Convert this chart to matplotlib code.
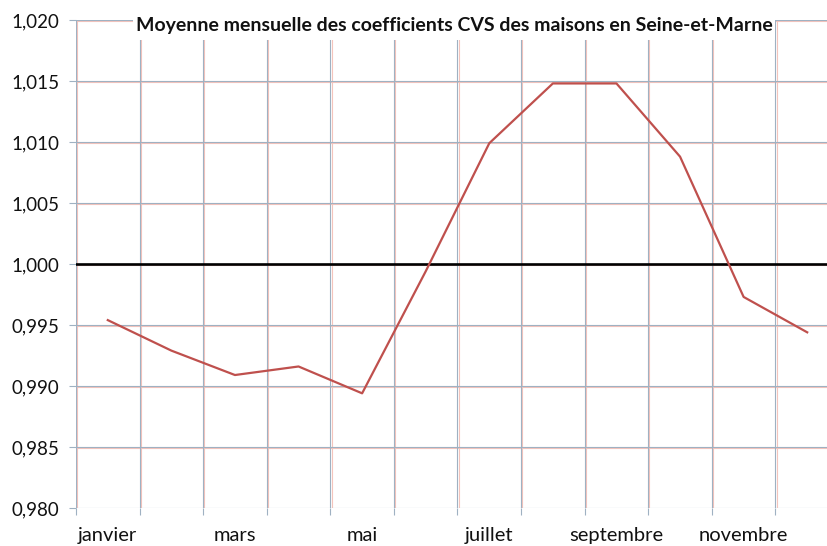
"""Coefficients CVS mensuels des maisons en Seine-et-Marne."""
import matplotlib
matplotlib.use("Agg")
import matplotlib.pyplot as plt
from matplotlib.patches import Rectangle
from matplotlib.ticker import FixedLocator, FuncFormatter
from matplotlib.transforms import ScaledTranslation
import numpy as np

mois = ["janvier", "février", "mars", "avril", "mai", "juin", "juillet",
        "août", "septembre", "octobre", "novembre", "décembre"]
coef = [0.9954, 0.9929, 0.9909, 0.9916, 0.9894, 0.9994, 1.0099,
        1.0148, 1.0148, 1.0088, 0.9973, 0.9944]
mois_affiches = ["janvier", "mars", "mai", "juillet", "septembre", "novembre"]
y_ticks = [0.980, 0.985, 0.990, 0.995, 1.000, 1.005, 1.010, 1.015, 1.020]

plt.rcParams["font.family"] = ["Lato", "DejaVu Sans"]

W, H = 828, 546
fig = plt.figure(figsize=(W / 100, H / 100), dpi=100)
ax = fig.add_axes([76 / W, 38 / H, 763 / W, 488 / H])

x = np.arange(1, len(mois) + 1)
grid_col = "#9fb1c2"
fringe_col = "#f4c4bc"
dx = ScaledTranslation(1.2 / 100, 0, fig.dpi_scale_trans)
dy = ScaledTranslation(0, -1.2 / 100, fig.dpi_scale_trans)

# grille : horizontales aux graduations, verticales aux limites de categories
for v in y_ticks:
    ax.axhline(v, color=grid_col, linewidth=0.8, zorder=1)
    ln = ax.axhline(v, color=fringe_col, linewidth=0.8, zorder=0.9)
    ln.set_transform(ln.get_transform() + dy)
for b in np.arange(0.5, len(mois) + 1):
    ax.axvline(b, color=grid_col, linewidth=0.8, zorder=1)
    ln = ax.axvline(b, color=fringe_col, linewidth=0.8, zorder=0.9)
    ln.set_transform(ln.get_transform() + dx)

ax.axhline(1.0, color="black", linewidth=1.9, zorder=3)
ax.plot(x, coef, color="#bf504d", linewidth=1.6, zorder=4)

ax.set_xlim(0.5, len(mois) + 0.5)
ax.set_ylim(0.980, 1.020)
ax.set_yticks(y_ticks)
ax.yaxis.set_major_formatter(FuncFormatter(lambda v, p: f"{v:.3f}".replace(".", ",")))
ax.tick_params(axis="y", length=5, width=0.8, color=grid_col, pad=7, labelsize=13.5,
               labelcolor="#111111")

idx = [mois.index(m) + 1 for m in mois_affiches]
ax.xaxis.set_major_locator(FixedLocator(idx))
ax.set_xticklabels(mois_affiches)
ax.xaxis.set_minor_locator(FixedLocator(np.arange(0.5, len(mois) + 1)))
ax.tick_params(axis="x", which="major", length=0, pad=14, labelsize=14.5,
               labelcolor="#111111")
ax.tick_params(axis="x", which="minor", length=5, width=0.8, color=grid_col)

for s in ax.spines.values():
    s.set_visible(False)

# cadre blanc du titre
fig.add_artist(Rectangle((133 / W, 1 - 40 / H), (775 - 133) / W, 40 / H,
                         transform=fig.transFigure, facecolor="white",
                         edgecolor="none", zorder=5))
fig.text(0.5 * (133 + 775) / W, 1 - 26 / H,
         "Moyenne mensuelle des coefficients CVS des maisons en Seine-et-Marne",
         ha="center", va="center", fontsize=14, fontweight="bold",
         color="#111111", zorder=6)

fig.savefig("out.png", dpi=100)
